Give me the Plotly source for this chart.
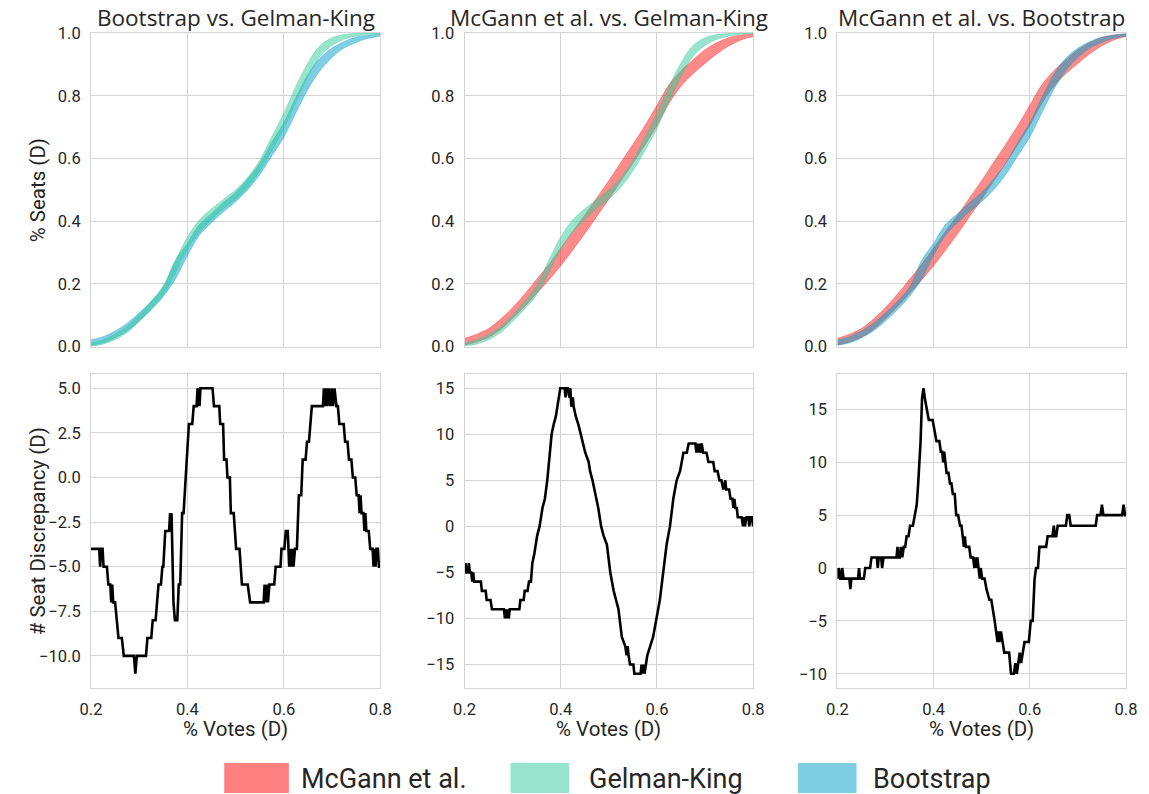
import plotly.graph_objects as go
from plotly.subplots import make_subplots

# ---------------- data ----------------
votes = [0.2, 0.225, 0.25, 0.275, 0.3, 0.325, 0.35, 0.375, 0.4, 0.425, 0.45, 0.475, 0.5,
         0.525, 0.55, 0.575, 0.6, 0.625, 0.65, 0.675, 0.7, 0.725, 0.75, 0.775, 0.8]

gk_lo = [0.002, 0.008, 0.022, 0.045, 0.080, 0.120, 0.165, 0.235, 0.310, 0.365, 0.405, 0.440, 0.470,
         0.508, 0.560, 0.625, 0.695, 0.780, 0.860, 0.925, 0.960, 0.980, 0.990, 0.996, 0.998]
gk_hi = [0.012, 0.022, 0.040, 0.065, 0.102, 0.145, 0.195, 0.275, 0.350, 0.405, 0.440, 0.470, 0.500,
         0.540, 0.595, 0.670, 0.745, 0.830, 0.905, 0.960, 0.985, 0.995, 0.999, 1.000, 1.000]

bs_lo = [0.005, 0.012, 0.028, 0.050, 0.082, 0.118, 0.160, 0.215, 0.290, 0.355, 0.395, 0.430, 0.462,
         0.500, 0.548, 0.608, 0.668, 0.745, 0.820, 0.880, 0.922, 0.952, 0.970, 0.983, 0.990]
bs_hi = [0.022, 0.032, 0.050, 0.075, 0.108, 0.145, 0.190, 0.275, 0.330, 0.390, 0.425, 0.460, 0.492,
         0.535, 0.585, 0.652, 0.715, 0.795, 0.868, 0.920, 0.952, 0.973, 0.987, 0.994, 0.998]

mg_lo = [0.005, 0.015, 0.030, 0.055, 0.090, 0.128, 0.170, 0.212, 0.258, 0.308, 0.360, 0.415, 0.470,
         0.528, 0.585, 0.643, 0.705, 0.775, 0.830, 0.870, 0.903, 0.934, 0.959, 0.978, 0.988]
mg_hi = [0.027, 0.040, 0.058, 0.088, 0.125, 0.168, 0.215, 0.262, 0.315, 0.368, 0.420, 0.475, 0.530,
         0.588, 0.645, 0.705, 0.770, 0.835, 0.880, 0.915, 0.947, 0.970, 0.986, 0.994, 0.997]

# seat discrepancy: Bootstrap vs. Gelman-King
disc_bs_gk = [
    (0.200, -4), (0.217, -4), (0.219, -5), (0.221, -4), (0.224, -4), (0.226, -5), (0.233, -5),
    (0.236, -6), (0.240, -6), (0.242, -7), (0.244, -6), (0.246, -7), (0.250, -7), (0.254, -8),
    (0.257, -9), (0.264, -9), (0.268, -10), (0.289, -10), (0.292, -11), (0.295, -10), (0.314, -10),
    (0.317, -9), (0.325, -9), (0.328, -8), (0.334, -8), (0.337, -7), (0.340, -6), (0.345, -6),
    (0.348, -5), (0.350, -5), (0.354, -3), (0.362, -3), (0.364, -2), (0.366, -3), (0.367, -2),
    (0.371, -7), (0.374, -8), (0.379, -8), (0.382, -6), (0.385, -6), (0.389, -2), (0.392, -2),
    (0.396, 0), (0.400, 2), (0.403, 3), (0.410, 3), (0.413, 4), (0.419, 4), (0.421, 5), (0.422, 4),
    (0.424, 5), (0.425, 4), (0.427, 5), (0.452, 5), (0.455, 4), (0.466, 4), (0.468, 3), (0.474, 3),
    (0.476, 1), (0.481, 1), (0.483, 0), (0.488, 0), (0.490, -2), (0.496, -2), (0.498, -3),
    (0.501, -4), (0.508, -4), (0.511, -5), (0.513, -6), (0.525, -6), (0.530, -7), (0.558, -7),
    (0.560, -6), (0.563, -7), (0.566, -6), (0.567, -7), (0.570, -6), (0.580, -6), (0.583, -5),
    (0.593, -5), (0.595, -4), (0.601, -4), (0.604, -3), (0.608, -3), (0.611, -5), (0.613, -4),
    (0.615, -5), (0.618, -4), (0.620, -5), (0.623, -4), (0.627, -4), (0.631, -1), (0.636, -1),
    (0.639, 1), (0.645, 1), (0.648, 2), (0.652, 2), (0.655, 3), (0.658, 4), (0.681, 4), (0.683, 5),
    (0.686, 4), (0.688, 5), (0.690, 4), (0.693, 5), (0.696, 4), (0.699, 5), (0.702, 4), (0.705, 5),
    (0.709, 4), (0.712, 4), (0.715, 3), (0.724, 3), (0.727, 2), (0.732, 2), (0.735, 1), (0.740, 1),
    (0.743, 0), (0.748, 0), (0.751, -1), (0.755, -1), (0.757, -2), (0.759, -1), (0.761, -2),
    (0.765, -2), (0.767, -3), (0.769, -2), (0.771, -3), (0.776, -3), (0.779, -4), (0.784, -4),
    (0.786, -5), (0.788, -4), (0.790, -5), (0.792, -4), (0.795, -4), (0.797, -5), (0.800, -5)]

# seat discrepancy: McGann et al. vs. Gelman-King
disc_mg_gk = [
    (0.200, -5), (0.202, -4), (0.204, -5), (0.207, -5), (0.209, -4), (0.211, -5), (0.214, -5),
    (0.216, -6), (0.218, -5), (0.220, -6), (0.234, -6), (0.236, -7), (0.244, -7), (0.246, -8),
    (0.254, -8), (0.257, -9), (0.282, -9), (0.284, -10), (0.286, -9), (0.288, -10), (0.290, -9),
    (0.292, -10), (0.294, -9), (0.314, -9), (0.316, -8), (0.323, -8), (0.325, -7), (0.331, -7),
    (0.334, -6), (0.338, -6), (0.341, -4), (0.345, -3), (0.351, -1), (0.356, 0), (0.362, 2),
    (0.367, 3), (0.372, 5), (0.376, 7), (0.378, 8), (0.381, 10), (0.385, 11), (0.390, 12),
    (0.393, 13), (0.396, 14), (0.399, 15), (0.408, 15), (0.410, 14), (0.412, 15), (0.415, 15),
    (0.418, 14), (0.420, 15), (0.422, 13), (0.425, 14), (0.427, 13), (0.431, 12), (0.437, 11),
    (0.442, 10), (0.447, 9), (0.451, 8), (0.458, 7), (0.461, 6), (0.466, 5), (0.470, 4), (0.474, 3),
    (0.478, 2), (0.484, 0), (0.489, -1), (0.496, -2), (0.503, -5), (0.510, -7), (0.520, -9),
    (0.527, -12), (0.534, -13), (0.537, -14), (0.539, -13), (0.541, -14), (0.544, -15), (0.551, -15),
    (0.553, -16), (0.566, -16), (0.568, -15), (0.570, -16), (0.572, -15), (0.574, -16), (0.577, -15),
    (0.580, -14), (0.586, -13), (0.592, -12), (0.599, -10), (0.606, -8), (0.613, -5), (0.620, -2),
    (0.627, 0), (0.634, 3), (0.641, 5), (0.648, 6), (0.655, 8), (0.662, 8), (0.666, 9), (0.680, 9),
    (0.682, 8), (0.684, 9), (0.686, 8), (0.688, 9), (0.690, 8), (0.693, 9), (0.696, 8), (0.703, 8),
    (0.707, 7), (0.717, 7), (0.720, 6), (0.726, 6), (0.730, 5), (0.734, 5), (0.738, 4), (0.742, 5),
    (0.744, 4), (0.750, 4), (0.753, 3), (0.757, 3), (0.759, 2), (0.761, 3), (0.763, 2), (0.766, 2),
    (0.768, 1), (0.776, 1), (0.779, 0), (0.781, 1), (0.783, 0), (0.786, 1), (0.790, 1), (0.792, 0),
    (0.794, 1), (0.797, 1), (0.800, 0)]

# seat discrepancy: McGann et al. vs. Bootstrap
disc_mg_bs = [
    (0.200, 0), (0.201, -1), (0.203, 0), (0.206, -1), (0.208, -1), (0.210, 0), (0.213, -1),
    (0.225, -1), (0.227, -2), (0.229, -1), (0.243, -1), (0.245, 0), (0.247, -1), (0.255, -1),
    (0.258, 0), (0.268, 0), (0.271, 1), (0.282, 1), (0.284, 0), (0.286, 1), (0.291, 1), (0.293, 0),
    (0.296, 1), (0.323, 1), (0.325, 2), (0.327, 1), (0.330, 1), (0.332, 2), (0.335, 1), (0.338, 2),
    (0.341, 2), (0.344, 3), (0.348, 3), (0.351, 4), (0.357, 4), (0.361, 5), (0.365, 6), (0.368, 8),
    (0.373, 12), (0.376, 16), (0.379, 17), (0.382, 16), (0.386, 15), (0.390, 14), (0.398, 14),
    (0.402, 13), (0.406, 12), (0.412, 12), (0.415, 11), (0.418, 11), (0.420, 10), (0.422, 11),
    (0.424, 10), (0.427, 9), (0.431, 9), (0.434, 8), (0.437, 8), (0.440, 7), (0.444, 7), (0.447, 5),
    (0.451, 5), (0.455, 4), (0.458, 4), (0.461, 3), (0.463, 2), (0.465, 3), (0.467, 2), (0.474, 2),
    (0.477, 1), (0.482, 1), (0.485, 0), (0.487, 1), (0.489, 0), (0.491, 1), (0.494, 0), (0.496, -1),
    (0.498, 0), (0.501, -1), (0.506, -1), (0.510, -2), (0.516, -3), (0.520, -3), (0.527, -5),
    (0.530, -6), (0.533, -7), (0.535, -6), (0.537, -7), (0.540, -6), (0.543, -7), (0.547, -8),
    (0.557, -8), (0.561, -10), (0.567, -10), (0.570, -9), (0.573, -10), (0.576, -9), (0.579, -8),
    (0.582, -9), (0.585, -8), (0.589, -7), (0.598, -7), (0.602, -5), (0.606, -5), (0.610, -1),
    (0.613, 0), (0.617, 0), (0.620, 2), (0.634, 2), (0.637, 3), (0.647, 3), (0.650, 4), (0.652, 3),
    (0.655, 3), (0.658, 4), (0.675, 4), (0.678, 5), (0.682, 5), (0.685, 4), (0.737, 4), (0.740, 5),
    (0.747, 5), (0.750, 6), (0.753, 5), (0.792, 5), (0.795, 6), (0.798, 5), (0.800, 5)]

panel_titles = ["Bootstrap vs. Gelman-King", "McGann et al. vs. Gelman-King", "McGann et al. vs. Bootstrap"]
legend_names = ["McGann et al.", "Gelman-King", "Bootstrap"]

# ---------------- styling ----------------
COL = {
    "McGann et al.": "rgba(255,0,0,0.46)",
    "Gelman-King": "rgba(49,201,153,0.5)",
    "Bootstrap": "rgba(0,157,201,0.5)",
}
LEG_COL = {"McGann et al.": "#ff8080", "Gelman-King": "#98e4cc", "Bootstrap": "#7fcfe4"}
TXT = "#262626"
GRID = "#d4d4d4"
LABFONT = "Roboto, DejaVu Sans, sans-serif"
TICKFONT = dict(family=LABFONT, size=16.5, color=TXT)

W, H = 1149, 794
L, R, T, B = 91, 17, 33, 106
PW, PH = W - L - R, H - T - B


def px_x(p):
    return (p - L) / PW


def px_y(p):
    return (H - B - p) / PH


def clamp(v):
    return min(1.0, max(0.0, v))


fig = make_subplots(rows=2, cols=3)

bands = {
    "McGann et al.": (mg_lo, mg_hi),
    "Gelman-King": (gk_lo, gk_hi),
    "Bootstrap": (bs_lo, bs_hi),
}
pairs = [("Bootstrap", "Gelman-King"), ("McGann et al.", "Gelman-King"), ("McGann et al.", "Bootstrap")]

for c, pair in enumerate(pairs, start=1):
    for name in pair:
        lo, hi = bands[name]
        fig.add_trace(go.Scatter(x=votes, y=lo, mode="lines", line=dict(width=0.6, color=COL[name], shape="spline"),
                                 showlegend=False, hoverinfo="skip"), row=1, col=c)
        fig.add_trace(go.Scatter(x=votes, y=hi, mode="lines", fill="tonexty", fillcolor=COL[name],
                                 line=dict(width=0.6, color=COL[name], shape="spline"),
                                 showlegend=False, name=name), row=1, col=c)

for c, pts in enumerate([disc_bs_gk, disc_mg_gk, disc_mg_bs], start=1):
    xs = [p[0] for p in pts]
    ys = [p[1] for p in pts]
    fig.add_trace(go.Scatter(x=xs, y=ys, mode="lines", line=dict(color="black", width=2.6),
                             showlegend=False), row=2, col=c)

# domains (pixel-derived)
col_dom = [(px_x(91), px_x(382)), (px_x(466.7), px_x(757)), (px_x(841.7), px_x(1132))]
row_dom = [(px_y(346.7), px_y(33)), (px_y(688), px_y(374))]
bottom_ranges = [[-11.8, 5.8], [-17.55, 16.55], [-11.35, 18.35]]
bottom_dticks = [2.5, 5, 5]
bottom_fmt = [".1f", "d", "d"]

axis_common = dict(showgrid=True, gridcolor=GRID, gridwidth=1, zeroline=False,
                   showline=True, linecolor=GRID, linewidth=1, mirror=True,
                   ticks="outside", ticklen=6, tickcolor="rgba(0,0,0,0)", tickfont=TICKFONT)

for r in (1, 2):
    for c in (1, 2, 3):
        idx = (r - 1) * 3 + c
        xa = "xaxis" if idx == 1 else f"xaxis{idx}"
        ya = "yaxis" if idx == 1 else f"yaxis{idx}"
        xd = [clamp(v) for v in col_dom[c - 1]]
        fig.layout[xa].update(domain=xd, range=[0.2, 0.8], tickvals=[0.2, 0.4, 0.6, 0.8],
                              tickformat=".1f", showticklabels=(r == 2), **axis_common)
        if r == 1:
            fig.layout[ya].update(domain=[clamp(v) for v in row_dom[0]], range=[0, 1],
                                  tickvals=[0, 0.2, 0.4, 0.6, 0.8, 1.0], tickformat=".1f", **axis_common)
        else:
            fig.layout[ya].update(domain=[clamp(v) for v in row_dom[1]], range=bottom_ranges[c - 1],
                                  dtick=bottom_dticks[c - 1], tick0=0, tickformat=bottom_fmt[c - 1], **axis_common)

annotations = []
title_centers = [(91 + 382) / 2, (466.7 + 757) / 2, (841.7 + 1132) / 2]
for t, cx in zip(panel_titles, title_centers):
    annotations.append(dict(text=t, x=px_x(cx), y=px_y(17), xref="paper", yref="paper", showarrow=False,
                            xanchor="center", yanchor="middle",
                            font=dict(family="Open Sans, Noto Sans, sans-serif", size=22.5, color=TXT)))
    annotations.append(dict(text="% Votes (D)", x=px_x(cx), y=px_y(729), xref="paper", yref="paper",
                            showarrow=False, xanchor="center", yanchor="middle",
                            font=dict(family=LABFONT, size=20.5, color=TXT)))
annotations.append(dict(text="% Seats (D)", x=px_x(38), y=px_y(190), xref="paper", yref="paper", showarrow=False,
                        textangle=-90, xanchor="center", yanchor="middle",
                        font=dict(family=LABFONT, size=20.5, color=TXT)))
annotations.append(dict(text="# Seat Discrepancy (D)", x=px_x(38), y=px_y(531), xref="paper", yref="paper",
                        showarrow=False, textangle=-90, xanchor="center", yanchor="middle",
                        font=dict(family=LABFONT, size=20.5, color=TXT)))

# legend drawn as patches + labels
shapes = []
leg_patch = {"McGann et al.": (225, 290, 300), "Gelman-King": (513, 572, 590), "Bootstrap": (802, 861, 876)}
for name in legend_names:
    x0, x1, tx = leg_patch[name]
    shapes.append(dict(type="rect", xref="paper", yref="paper", x0=px_x(x0), x1=px_x(x1),
                       y0=px_y(793), y1=px_y(763), fillcolor=LEG_COL[name], line=dict(width=0)))
    annotations.append(dict(text=name, x=px_x(tx), y=px_y(779), xref="paper", yref="paper", showarrow=False,
                            xanchor="left", yanchor="middle",
                            font=dict(family=LABFONT, size=27, color=TXT)))

fig.update_layout(width=W, height=H, margin=dict(l=L, r=R, t=T, b=B),
                  paper_bgcolor="white", plot_bgcolor="white",
                  annotations=annotations, shapes=shapes, showlegend=False)

fig.write_html("out.html")
